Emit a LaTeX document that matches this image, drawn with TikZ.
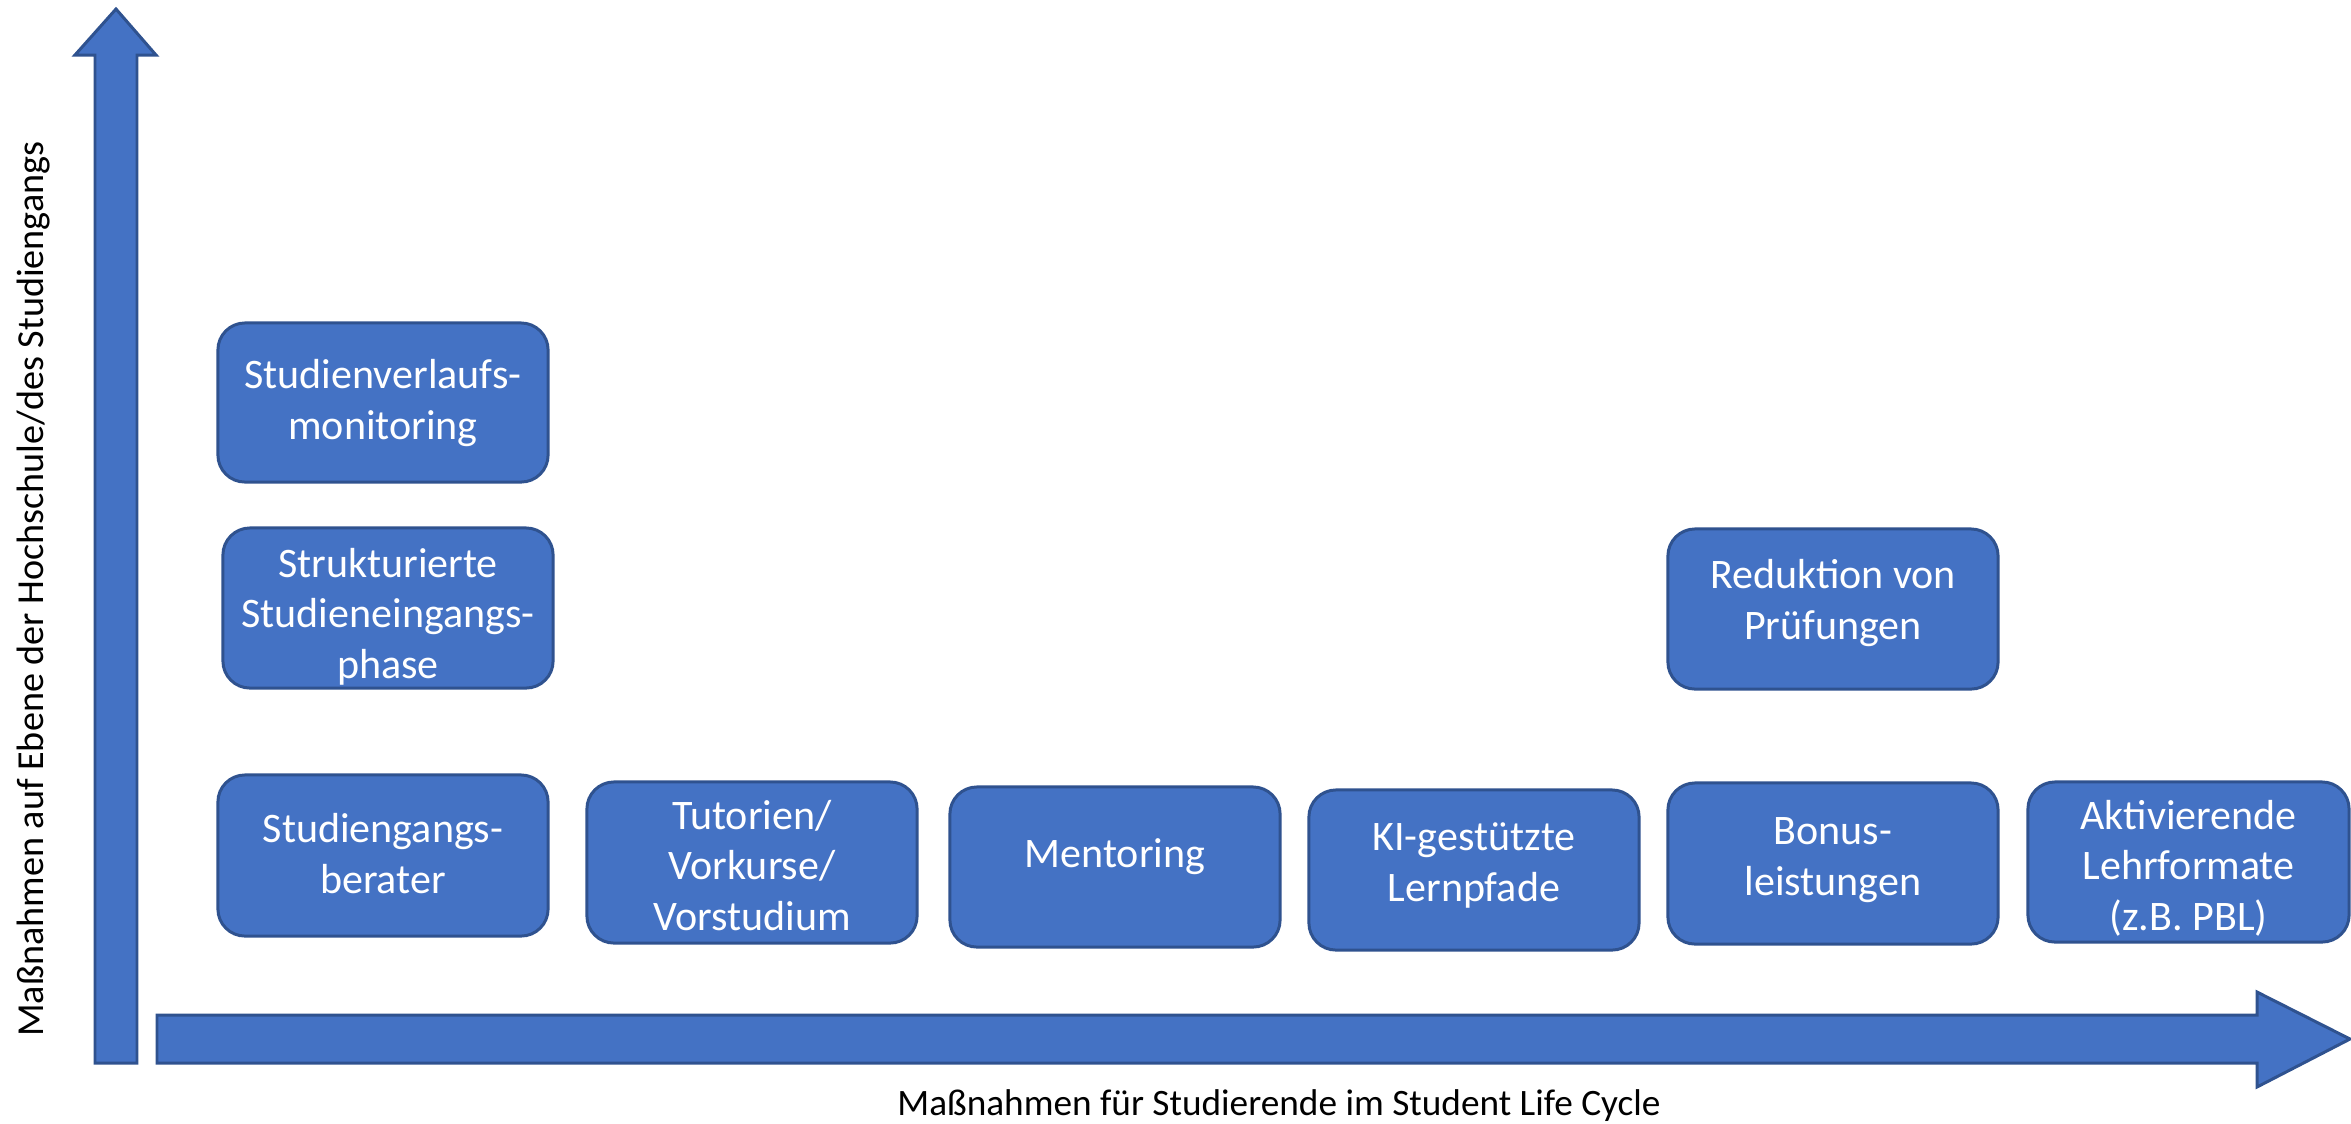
\documentclass[tikz,border=0pt]{standalone}
\usepackage{fontspec}
\setmainfont{Carlito}
\definecolor{boxc}{HTML}{4472C4}
\definecolor{bordc}{HTML}{2F528F}
\begin{document}
\begin{tikzpicture}[x=0.01cm,y=-0.01cm,
  box/.style={draw=bordc, fill=boxc, line width=0.85pt, rounded corners=0.27cm,
    minimum width=3.3cm, minimum height=1.6cm, inner sep=0pt},
  boxtext/.style={text=white, font=\fontsize{11.95}{14.23}\selectfont, align=center,
    anchor=base, inner sep=0pt},
  lab/.style={text=black, font=\fontsize{10.6}{12.7}\selectfont, inner sep=0pt, anchor=base},
  axis/.style={fill=boxc, draw=bordc, line width=0.85pt, line join=miter}]
\useasboundingbox (0,0) rectangle (2351,1123);
% axes
\path[axis] (95,1063) -- (95,55) -- (75,55) -- (116,9) -- (156,55) -- (137,55) -- (137,1063) -- cycle;
\path[axis] (157,1015) -- (2257,1015) -- (2257,992) -- (2350,1039) -- (2257,1087) -- (2257,1063) -- (157,1063) -- cycle;
\node[lab] (xlab) at (1279,1115) {Maßnahmen für Studierende im Student Life Cycle};
\node[lab, rotate=90, font=\fontsize{10.85}{13}\selectfont] (ylab) at (43,589) {Maßnahmen auf Ebene der Hochschule/des Studiengangs};
% boxes
\node[box, minimum height=1.59cm] (b1) at (383,402.5) {};
\node[boxtext] (t1) at (383,439) {Studienverlaufs-\\monitoring};
\node[box] (b2) at (388,608) {};
\node[boxtext] (t2) at (388,678) {Strukturierte\\Studieneingangs-\\phase};
\node[box, minimum height=1.61cm] (b3) at (383,855.5) {};
\node[boxtext] (t3) at (383,893) {Studiengangs-\\berater};
\node[box, minimum height=1.61cm] (b4) at (752,862.5) {};
\node[boxtext] (t4) at (752,930) {Tutorien/\\Vorkurse/\\Vorstudium};
\node[box] (b5) at (1115,867) {};
\node[boxtext] (t5) at (1115,867) {Mentoring};
\node[box] (b6) at (1474,870) {};
\node[boxtext] (t6) at (1474,901) {KI-gestützte\\Lernpfade};
\node[box, minimum height=1.61cm] (b7) at (1833,863.5) {};
\node[boxtext] (t7) at (1833,895) {Bonus-\\leistungen};
\node[box, minimum width=3.21cm] (b8) at (2188.5,862) {};
\node[boxtext] (t8) at (2188.5,930) {Aktivierende\\Lehrformate\\(z.B. PBL)};
\node[box] (b9) at (1833,609) {};
\node[boxtext] (t9) at (1833,639) {Reduktion von\\Prüfungen};
\end{tikzpicture}
\end{document}
